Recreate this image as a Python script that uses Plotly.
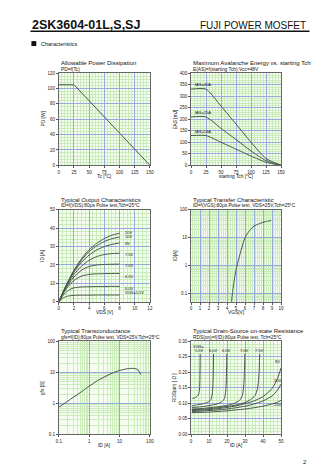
import plotly.graph_objects as go
import numpy as np

W, H = 336, 475
FONT = "Liberation Sans, Arial, sans-serif"
LINE = "#47574a"
GRID_MAJOR = "#96aade"
GRID_MINOR = "#c9ecba"
BG = "#f7fcf3"

# ---- Allowable power dissipation ----
pd_tc = [0, 25, 150]
pd_w = [105, 105, 0]

# ---- Avalanche energy vs starting Tch ----
eas_tch = [0, 25, 50, 75, 100, 125, 150]
eas_hi = [331, 331, 257, 179, 100, 29, 0]
eas_mid = [210, 210, 160, 112, 62, 20, 0]
eas_lo = [129, 129, 100, 70, 40, 13, 0]
eas_labels = ["IAS=40A", "IAS=25A", "IAS=14A"]

# ---- Output characteristics ----
vds = [0, 0.5, 1, 1.5, 2, 3, 4, 5, 6, 7, 8]
out_curves = {
    "20V": [0, 4.8, 9.3, 13.4, 17.2, 23.5, 28.3, 31.8, 34.4, 36.2, 37.3],
    "10V": [0, 4.7, 9.1, 13.1, 16.8, 22.8, 27.3, 30.5, 32.8, 34.3, 35.2],
    "8V": [0, 4.6, 8.9, 12.8, 16.2, 21.6, 25.4, 28.2, 30.0, 31.2, 32.0],
    "7.5V": [0, 4.4, 8.4, 11.9, 14.9, 19.4, 22.6, 24.6, 25.7, 26.2, 26.4],
    "7.0V": [0, 4.2, 7.8, 10.9, 13.5, 17.2, 19.2, 20.0, 20.3, 20.4, 20.5],
    "6.5V": [0, 3.9, 7.1, 9.6, 11.6, 14.0, 14.9, 15.2, 15.3, 15.4, 15.4],
    "6.0V": [0, 3.2, 5.4, 6.8, 7.6, 8.1, 8.2, 8.3, 8.3, 8.4, 8.4],
    "VGS=5.5V": [0, 1.9, 2.9, 3.3, 3.5, 3.6, 3.6, 3.7, 3.7, 3.7, 3.7],
}
out_label_y = {"20V": 37.5, "10V": 35.3, "8V": 31.5, "7.5V": 25.8, "7.0V": 19.8,
               "6.5V": 13.5, "6.0V": 7.3, "VGS=5.5V": 4.9}

# ---- Transfer characteristic ----
vgs = [4.5, 4.6, 4.8, 5.0, 5.2, 5.5, 6.0, 6.5, 7.0, 7.5, 8.0, 8.5, 8.9]
id_tr = [0.05, 0.1, 0.3, 0.7, 1.3, 3.0, 10, 18, 26, 31, 35.5, 39, 41]

# ---- Transconductance ----
id_gfs = [0.1, 0.2, 0.5, 1, 2, 5, 10, 20, 30, 40, 50]
gfs = [0.75, 1.2, 2.2, 3.6, 5.6, 8.9, 11.5, 13.3, 13.4, 12.3, 8.5]

# ---- On-state resistance ----
rds_curves = {
    "5.5V": ([0.5, 1, 2, 3, 4, 4.5, 4.8, 5.0, 5.1],
             [0.115, 0.116, 0.118, 0.121, 0.127, 0.135, 0.15, 0.2, 0.26]),
    "6.0V": ([0.5, 2, 4, 6, 8, 10, 11, 11.8, 12.3, 12.5],
             [0.093, 0.094, 0.096, 0.098, 0.101, 0.106, 0.112, 0.13, 0.18, 0.26]),
    "6.5V": ([0.5, 4, 8, 12, 15, 17, 18.5, 19.3, 19.7, 19.9],
             [0.087, 0.088, 0.091, 0.095, 0.099, 0.105, 0.115, 0.14, 0.2, 0.26]),
    "7.0V": ([0.5, 5, 10, 15, 20, 24, 27, 28.5, 29.3, 29.7, 29.9],
             [0.082, 0.083, 0.086, 0.089, 0.094, 0.1, 0.11, 0.125, 0.16, 0.21, 0.26]),
    "7.5V": ([0.5, 5, 10, 15, 20, 25, 30, 33, 35.5, 37, 37.8, 38.1],
             [0.08, 0.081, 0.083, 0.086, 0.09, 0.095, 0.103, 0.112, 0.125, 0.15, 0.2, 0.26]),
    "8V": ([0.5, 5, 10, 15, 20, 25, 30, 35, 40, 45, 48, 50],
           [0.077, 0.078, 0.08, 0.083, 0.087, 0.092, 0.099, 0.108, 0.122, 0.148, 0.18, 0.215]),
    "10V": ([0.5, 5, 10, 15, 20, 25, 30, 35, 40, 45, 48, 50],
            [0.074, 0.075, 0.077, 0.079, 0.082, 0.086, 0.091, 0.098, 0.108, 0.124, 0.143, 0.162]),
    "20V": ([0.5, 5, 10, 15, 20, 25, 30, 35, 40, 45, 48, 50],
            [0.07, 0.071, 0.072, 0.074, 0.076, 0.079, 0.082, 0.086, 0.091, 0.098, 0.104, 0.11]),
}

fig = go.Figure()

# panel boxes in pixels: (x0, x1) per column, (top, bottom) per row
cols = [(57, 150), (192, 284)]
rows = [(72, 165), (210, 303), (343, 437)]


def dom(px0, px1, py0, py1):
    return [px0 / W, px1 / W], [1 - py1 / H, 1 - py0 / H]


def minor(dt):
    return dict(dtick=dt, showgrid=True, gridcolor=GRID_MINOR, gridwidth=0.5)


def axis_common(**kw):
    d = dict(showline=True, linecolor="#666", linewidth=0.8, mirror=True,
             ticks="outside", ticklen=2, tickcolor="#555",
             tickfont=dict(size=4.5, family=FONT, color="#222"),
             showgrid=True, gridcolor=GRID_MAJOR, gridwidth=0.7,
             zeroline=False, fixedrange=True)
    d.update(kw)
    return d


panels = []
n = 0
for r in rows:
    for c in cols:
        n += 1
        xd, yd = dom(c[0], c[1], r[0], r[1])
        panels.append((n, xd, yd))

log_ticks = dict(tickvals=[0.1, 1, 10, 100], ticktext=["0.1", "1", "10", "100"])
axes_cfg = {
    1: (dict(range=[0, 150], dtick=25, minor=minor(5)),
        dict(range=[0, 120], dtick=20, minor=minor(4))),
    2: (dict(range=[0, 150], dtick=25, minor=minor(5)),
        dict(range=[0, 400], dtick=50, minor=minor(10))),
    3: (dict(range=[0, 12], dtick=2, minor=minor(0.5)),
        dict(range=[0, 50], dtick=10, minor=minor(2))),
    4: (dict(range=[0, 10], dtick=1, minor=minor(0.2)),
        dict(type="log", range=[np.log10(0.05), 2], minor=minor("D1"), **log_ticks)),
    5: (dict(type="log", range=[-1, 2], minor=minor("D1"), **log_ticks),
        dict(type="log", range=[-1, 2], minor=minor("D1"), **log_ticks)),
    6: (dict(range=[0, 50], dtick=10, minor=minor(2)),
        dict(range=[0, 0.30], dtick=0.05, tickformat=".2f", minor=minor(0.01))),
}

layout_axes = {}
for n, xd, yd in panels:
    xk = "xaxis" if n == 1 else f"xaxis{n}"
    yk = "yaxis" if n == 1 else f"yaxis{n}"
    xc, yc = axes_cfg[n]
    layout_axes[xk] = axis_common(domain=xd, anchor=f"y{'' if n == 1 else n}", **xc)
    layout_axes[yk] = axis_common(domain=yd, anchor=f"x{'' if n == 1 else n}", **yc)


def ref(n):
    return ("x", "y") if n == 1 else (f"x{n}", f"y{n}")


def add_line(n, x, y):
    xr, yr = ref(n)
    fig.add_trace(go.Scatter(x=x, y=y, xaxis=xr, yaxis=yr, mode="lines",
                             line=dict(color=LINE, width=1, shape="spline", smoothing=0.6),
                             showlegend=False, hoverinfo="skip"))


# curves
xr, yr = ref(1)
fig.add_trace(go.Scatter(x=pd_tc, y=pd_w, xaxis=xr, yaxis=yr, mode="lines",
                         line=dict(color=LINE, width=1), showlegend=False))
for ys in (eas_hi, eas_mid, eas_lo):
    add_line(2, eas_tch, ys)
for k, ys in out_curves.items():
    add_line(3, vds, ys)
add_line(4, vgs, id_tr)
add_line(5, id_gfs, gfs)
for k, (xs, ys) in rds_curves.items():
    add_line(6, xs, ys)

ann = []


def txt(x, y, s, size=5, xref="paper", yref="paper", xanchor="left", yanchor="middle",
        bold=False, angle=0, color="#111"):
    if xref == "paper":
        x = x / W
        y = 1 - y / H
    ann.append(dict(x=x, y=y, xref=xref, yref=yref, text=f"<b>{s}</b>" if bold else s,
                    showarrow=False, xanchor=xanchor, yanchor=yanchor, textangle=angle,
                    font=dict(size=size, family=FONT, color=color)))


# page header
txt(28, 23, "2SK3604-01L,S,SJ", size=12.5, bold=True)
txt(311, 24, "FUJI POWER MOSFET", size=10, xanchor="right")
txt(37, 42, "Characteristics", size=5.5)
txt(313, 465, "2", size=6, xanchor="right")

# panel titles and axis labels
titles = {
    1: ("Allowable Power Dissipation", "PD=f(Tc)"),
    2: ("Maximum Avalanche Energy vs. starting Tch", "E(AS)=f(starting Tch):Vcc=48V"),
    3: ("Typical Output Characteristics", "ID=f(VDS):80µs Pulse test,Tch=25°C"),
    4: ("Typical Transfer Characteristic", "ID=f(VGS):80µs Pulse test, VDS=25V,Tch=25°C"),
    5: ("Typical Transconductance", "gfs=f(ID):80µs Pulse test, VDS=25V,Tch=25°C"),
    6: ("Typical Drain-Source on-state Resistance", "RDS(on)=f(ID):80µs Pulse test, Tch=25°C"),
}
xlabels = {1: "Tc [°C]", 2: "starting Tch [°C]", 3: "VDS [V]", 4: "VGS[V]", 5: "ID [A]", 6: "ID [A]"}
ylabels = {1: "PD [W]", 2: "EAS [mJ]", 3: "ID [A]", 4: "ID[A]", 5: "gfs [S]", 6: "RDS(on) [ Ω ]"}

for i, (n, xd, yd) in enumerate(panels):
    c = cols[i % 2]
    r = rows[i // 2]
    t1, t2 = titles[n]
    txt(c[0], r[0] - 10, t1, size=6)
    txt(c[0], r[0] - 4, t2, size=4.8)
    txt((c[0] + c[1]) / 2, r[1] + 11, xlabels[n], size=4.8, xanchor="center")
    txt(c[0] - 16, (r[0] + r[1]) / 2, ylabels[n], size=4.8, xanchor="center", angle=-90)

# avalanche energy curve labels
for lab, ys in zip(eas_labels, (eas_hi, eas_mid, eas_lo)):
    txt(3, ys[0] + 18, lab, size=4, xref="x2", yref="y2")

# output characteristics labels
for k, yv in out_label_y.items():
    txt(8.4, yv, k, size=4, xref="x3", yref="y3")

# RDS(on) labels
txt(4, 0.283, "VGS=", size=4, xref="x6", yref="y6", xanchor="center")
for k, xv in zip(["5.5V", "6.0V", "6.5V", "7.0V", "7.5V"], [4.5, 12.3, 19.8, 29.8, 38.2]):
    txt(xv, 0.27, k, size=4, xref="x6", yref="y6", xanchor="center")
txt(48, 0.235, "8V", size=4, xref="x6", yref="y6", xanchor="center")
txt(48, 0.175, "10V", size=4, xref="x6", yref="y6", xanchor="center")
txt(48, 0.098, "20V", size=4, xref="x6", yref="y6", xanchor="center")

shapes = [
    dict(type="line", xref="paper", yref="paper", x0=28 / W, x1=313 / W,
         y0=1 - 29.5 / H, y1=1 - 29.5 / H, line=dict(color="#111", width=1.5)),
    dict(type="rect", xref="paper", yref="paper", x0=29 / W, x1=34 / W,
         y0=1 - 44.5 / H, y1=1 - 39.5 / H, fillcolor="#111", line=dict(width=0)),
]

fig.update_layout(width=W, height=H, margin=dict(l=0, r=0, t=0, b=0),
                  paper_bgcolor="white", plot_bgcolor=BG, showlegend=False,
                  annotations=ann, shapes=shapes, font=dict(family=FONT), **layout_axes)

fig.write_html("out.html", config={"displayModeBar": False})
